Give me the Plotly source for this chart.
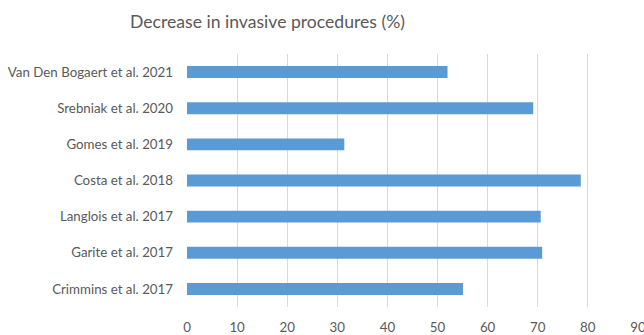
import plotly.graph_objects as go

studies = [
    "Crimmins et al. 2017",
    "Garite et al. 2017",
    "Langlois et al. 2017",
    "Costa et al. 2018",
    "Gomes et al. 2019",
    "Srebniak et al. 2020",
    "Van Den Bogaert et al. 2021",
]
decrease = [55.1, 70.9, 70.6, 78.6, 31.4, 69.1, 52.0]
x_ticks = [0, 10, 20, 30, 40, 50, 60, 70, 80, 90]

W, H = 644, 335
L, R, T, B = 187, 6, 54, 28

fig = go.Figure(go.Bar(
    x=decrease, y=studies, orientation="h",
    marker=dict(color="#5B9BD5", line=dict(width=0)),
    hoverinfo="x+y",
))

fig.update_layout(
    width=W, height=H,
    margin=dict(l=L, r=R, t=T, b=B, pad=0, autoexpand=False),
    paper_bgcolor="white", plot_bgcolor="white",
    bargap=0.67,
    showlegend=False,
    font=dict(family="Lato, 'Open Sans', sans-serif", size=13.3, color="#595959"),
    title=dict(
        text="Decrease in invasive procedures (%)",
        x=267.5 / W, xanchor="center", xref="container",
        y=1 - 22 / H, yanchor="middle", yref="container",
        font=dict(size=17.6, color="#595959"),
    ),
    xaxis=dict(
        range=[0, 90.02], tickvals=x_ticks, showgrid=True, gridcolor="#D9D9D9",
        gridwidth=1, zeroline=False, showline=False, ticks="",
        ticklabelstandoff=11, ticklabeloverflow="allow", automargin=False,
        fixedrange=True,
    ),
    yaxis=dict(
        categoryorder="array", categoryarray=studies,
        showgrid=False, zeroline=False, showline=False, ticks="",
        ticklabelstandoff=13, automargin=False, fixedrange=True,
    ),
)

fig.write_html("out.html")
